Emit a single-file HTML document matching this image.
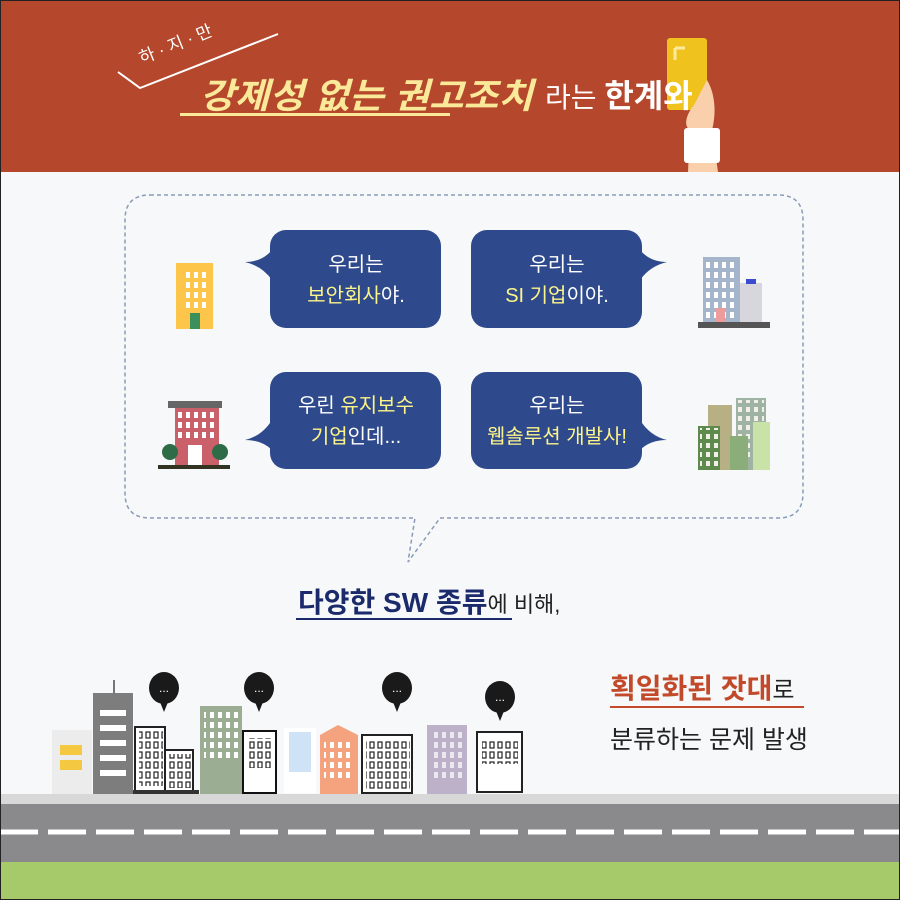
<!DOCTYPE html>
<html><head><meta charset="utf-8"><style>
body{margin:0;width:900px;height:900px;overflow:hidden;font-family:"Liberation Sans","Noto Sans CJK KR",sans-serif}
svg text{font-family:"Liberation Sans","Noto Sans CJK KR",sans-serif}
</style></head><body>
<svg width="900" height="900" viewBox="0 0 900 900" xmlns="http://www.w3.org/2000/svg">
<defs>
<pattern id="w" width="8" height="10" patternUnits="userSpaceOnUse"><rect x="2" y="2" width="4" height="6" fill="#fff"/></pattern>
<pattern id="wk" width="8" height="10" patternUnits="userSpaceOnUse"><rect x="2" y="2" width="4" height="6" fill="none" stroke="#222" stroke-width="1.2"/></pattern>
<pattern id="wl" width="8" height="9" patternUnits="userSpaceOnUse"><rect x="2" y="2" width="4" height="5" fill="#f1efe7"/></pattern>
</defs>
<rect width="900" height="900" fill="#f6f8f9"/>
<rect width="900" height="172" fill="#b5472c"/>
<!-- hand + card -->
<rect x="667" y="38" width="40" height="72" rx="3" fill="#efc21e"/>
<path d="M675 48v12M675 48h10" stroke="#fde9a0" stroke-width="3"/>
<path d="M707 80 C716 95 716 115 712 130 L718 172 L688 172 L690 130 C682 125 688 112 694 105 Z" fill="#f9d0ab"/>
<rect x="684" y="128" width="36" height="35" rx="3" fill="#fff"/>
<path d="M118 72 L140 88 L278 34" stroke="#fff" stroke-width="2" fill="none"/>
<text x="142" y="64" font-size="17" fill="#fff" transform="rotate(-22 142 64)">하 · 지 · 만</text>
<text x="200" y="108" font-size="35" font-weight="bold" font-style="italic" fill="#fbe99a" textLength="333" lengthAdjust="spacingAndGlyphs">강제성 없는 권고조치</text>
<rect x="180" y="113" width="270" height="3" fill="#fbe99a"/>
<text x="545" y="107" font-size="28" fill="#fff">라는 <tspan font-weight="bold" font-size="32">한계와</tspan></text>
<!-- dashed bubble -->
<path d="M150 195 H778 Q803 195 803 220 V493 Q803 518 778 518 H440 L408 562 L415 518 H150 Q125 518 125 493 V220 Q125 195 150 195 Z" fill="none" stroke="#8a9bb8" stroke-width="1.5" stroke-dasharray="4 3"/>
<g fill="#2f4a8c">
<rect x="270" y="230" width="171" height="98" rx="16"/><path d="M272 250 Q262 262 245 262 Q262 266 272 280Z"/>
<rect x="471" y="230" width="171" height="98" rx="16"/><path d="M640 250 Q650 262 667 262 Q650 266 640 280Z"/>
<rect x="270" y="372" width="171" height="97" rx="16"/><path d="M272 420 Q262 436 245 440 Q262 440 272 450Z"/>
<rect x="471" y="372" width="171" height="97" rx="16"/><path d="M640 420 Q650 436 667 440 Q650 440 640 450Z"/>
</g>
<g font-size="20" text-anchor="middle" fill="#fff">
<text x="356" y="271">우리는</text>
<text x="356" y="302"><tspan fill="#fdf48a">보안회사</tspan>야.</text>
<text x="557" y="271">우리는</text>
<text x="557" y="302"><tspan fill="#fdf48a">SI 기업</tspan>이야.</text>
<text x="356" y="412">우린 <tspan fill="#fdf48a">유지보수</tspan></text>
<text x="356" y="443"><tspan fill="#fdf48a">기업</tspan>인데...</text>
<text x="557" y="412">우리는</text>
<text x="557" y="443"><tspan fill="#fdf48a">웹솔루션 개발사!</tspan></text>
</g>
<!-- small building icons -->
<rect x="176" y="263" width="37" height="66" fill="#fdc54a"/><rect x="183" y="270" width="24" height="38" fill="url(#w)"/><rect x="190" y="313" width="10" height="16" fill="#3a8f5a"/>
<rect x="703" y="257" width="37" height="66" fill="#a4b5cc"/><rect x="705" y="260" width="33" height="60" fill="url(#w)"/><rect x="740" y="283" width="22" height="40" fill="#d6d6dc"/><rect x="716" y="308" width="9" height="14" fill="#ee9b9b"/><rect x="698" y="322" width="72" height="6" fill="#555"/><rect x="746" y="279" width="10" height="5" fill="#3b4bd0"/>
<rect x="168" y="401" width="54" height="7" fill="#666"/><rect x="175" y="408" width="44" height="58" fill="#c9606a"/><rect x="178" y="411" width="38" height="28" fill="url(#w)"/><rect x="188" y="445" width="14" height="21" fill="#fff"/>
<circle cx="170" cy="452" r="8" fill="#2e6b47"/><circle cx="220" cy="452" r="8" fill="#2e6b47"/><rect x="158" y="465" width="72" height="4" fill="#332"/>
<rect x="708" y="405" width="24" height="65" fill="#b8b085"/><rect x="736" y="398" width="30" height="72" fill="#9fb3a4"/><rect x="738" y="400" width="26" height="60" fill="url(#wl)"/><rect x="698" y="426" width="22" height="44" fill="#5e8a4e"/><rect x="700" y="428" width="18" height="40" fill="url(#wl)"/><rect x="730" y="436" width="18" height="34" fill="#8aad7a"/><rect x="753" y="422" width="17" height="48" fill="#c9e2a8"/>
<text x="298" y="612" font-size="28" fill="#1b2a6a" font-weight="bold">다양한 SW 종류<tspan font-weight="normal" font-size="22" fill="#222">에 비해,</tspan></text>
<rect x="296" y="618" width="216" height="2" fill="#1b2a6a"/>
<text x="610" y="698" font-size="28" font-weight="bold" fill="#c24a2a">획일화된 잣대<tspan font-weight="normal" fill="#222" font-size="24">로</tspan></text>
<rect x="610" y="706" width="194" height="2" fill="#c24a2a"/>
<text x="610" y="748" font-size="25" fill="#222">분류하는 문제 발생</text>
<!-- city -->
<rect x="52" y="730" width="40" height="64" fill="#ececec"/><rect x="60" y="745" width="22" height="10" fill="#f5c842"/><rect x="60" y="760" width="22" height="10" fill="#f5c842"/>
<rect x="93" y="693" width="40" height="101" fill="#7d7d7d"/><rect x="113" y="680" width="2" height="14" fill="#777"/>
<g fill="#fff"><rect x="100" y="710" width="26" height="6"/><rect x="100" y="725" width="26" height="6"/><rect x="100" y="740" width="26" height="6"/><rect x="100" y="755" width="26" height="6"/><rect x="100" y="770" width="26" height="6"/></g>
<rect x="135" y="727" width="30" height="65" fill="#fff" stroke="#222" stroke-width="2"/><rect x="139" y="731" width="24" height="55" fill="url(#wk)"/><rect x="165" y="750" width="28" height="42" fill="#fff" stroke="#222" stroke-width="2"/><rect x="169" y="754" width="22" height="34" fill="url(#wk)"/>
<rect x="133" y="790" width="66" height="4" fill="#333"/>
<rect x="200" y="706" width="42" height="88" fill="#9bae94"/><rect x="204" y="712" width="34" height="50" fill="url(#w)"/>
<rect x="243" y="731" width="33" height="62" fill="#fff" stroke="#111" stroke-width="2"/><rect x="248" y="738" width="24" height="30" fill="url(#wk)"/>
<rect x="284" y="728" width="32" height="65" fill="#fff"/><rect x="289" y="732" width="22" height="40" fill="#b9d8f2" opacity=".7"/>
<path d="M320 735 L338 725 L358 735 V794 H320Z" fill="#f4a37e"/><rect x="324" y="742" width="30" height="40" fill="url(#w)"/>
<rect x="362" y="735" width="50" height="58" fill="#fff" stroke="#222" stroke-width="2"/><rect x="366" y="739" width="44" height="52" fill="url(#wk)"/>
<rect x="427" y="725" width="40" height="69" fill="#bcb1c8"/><rect x="431" y="729" width="32" height="50" fill="url(#w)" opacity=".7"/>
<rect x="477" y="732" width="45" height="60" fill="#fff" stroke="#222" stroke-width="2"/><rect x="482" y="740" width="36" height="24" fill="url(#wk)"/>
<g fill="#1a1a1a"><ellipse cx="164" cy="688" rx="15" ry="16"/><ellipse cx="259" cy="688" rx="15" ry="16"/><ellipse cx="397" cy="688" rx="15" ry="16"/><ellipse cx="500" cy="697" rx="15" ry="16"/>
<path d="M160 702 L164 712 L168 702Z"/><path d="M255 702 L259 712 L263 702Z"/><path d="M393 702 L397 712 L401 702Z"/><path d="M496 711 L500 721 L504 711Z"/></g>
<g fill="#fff" font-size="12" text-anchor="middle"><text x="164" y="692">...</text><text x="259" y="692">...</text><text x="397" y="692">...</text><text x="500" y="701">...</text></g>
<!-- road -->
<rect x="0" y="794" width="900" height="10" fill="#d8d8d8"/>
<rect x="0" y="804" width="900" height="58" fill="#8a8a8c"/>
<line x1="0" y1="832" x2="900" y2="832" stroke="#fff" stroke-width="5" stroke-dasharray="38 10"/>
<rect x="0" y="862" width="900" height="38" fill="#a6c96a"/>
<rect x="0.5" y="0.5" width="899" height="899" fill="none" stroke="#222"/>
</svg>
</body></html>
